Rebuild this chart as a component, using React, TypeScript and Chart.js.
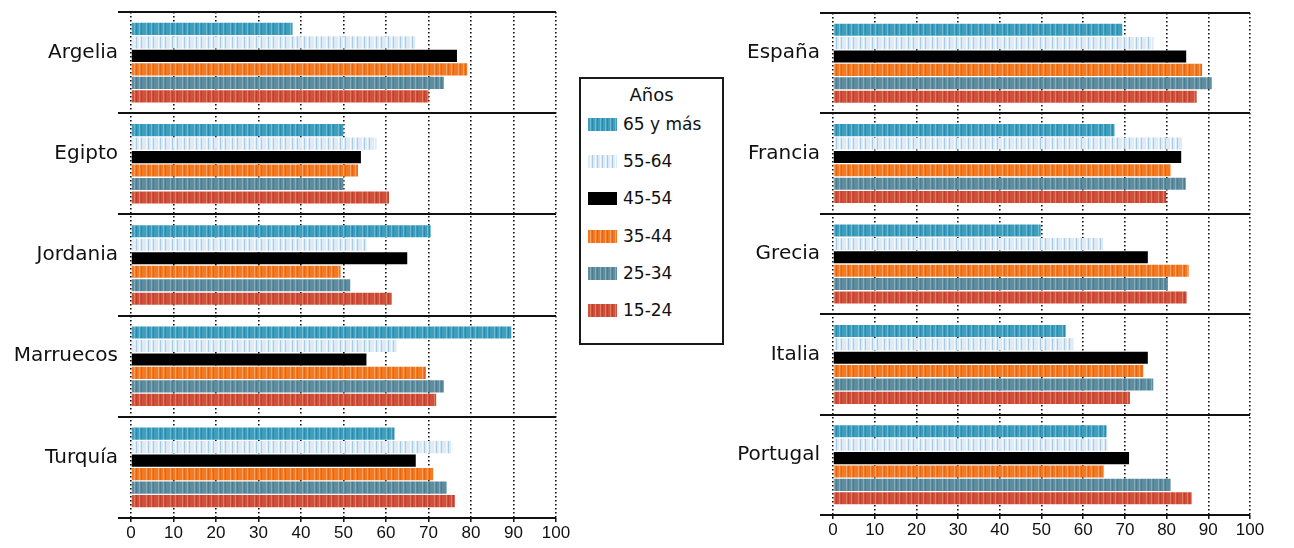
import React, { useEffect, useRef } from "react";
import { Chart, registerables } from "chart.js";

Chart.register(...registerables);

// ---------- Data ----------
const LEFT_COUNTRIES = ["Argelia", "Egipto", "Jordania", "Marruecos", "Turquía"];
const RIGHT_COUNTRIES = ["España", "Francia", "Grecia", "Italia", "Portugal"];
const AGE_GROUPS = ["65 y más", "55-64", "45-54", "35-44", "25-34", "15-24"];
const X_MIN = 0;
const X_MAX = 100;
const X_STEP = 10;

// values per age group, one per country (left panel)
const LEFT_65 = [38, 50, 70.5, 89.5, 62];
const LEFT_55 = [67, 57.7, 55.4, 62.5, 75.6];
const LEFT_45 = [76.7, 54.1, 65, 55.4, 67];
const LEFT_35 = [79.1, 53.4, 49.3, 69.4, 71.1];
const LEFT_25 = [73.6, 50, 51.6, 73.6, 74.3];
const LEFT_15 = [70, 60.7, 61.4, 71.8, 76.2];

// right panel
const RIGHT_65 = [69.4, 67.5, 49.8, 55.8, 65.6];
const RIGHT_55 = [76.8, 83.8, 64.8, 57.7, 65.8];
const RIGHT_45 = [84.7, 83.5, 75.5, 75.5, 71];
const RIGHT_35 = [88.5, 81, 85.3, 74.4, 65];
const RIGHT_25 = [90.9, 84.6, 80.3, 76.8, 81];
const RIGHT_15 = [87.2, 79.9, 84.8, 71.2, 86];

const LEFT_SERIES = [LEFT_65, LEFT_55, LEFT_45, LEFT_35, LEFT_25, LEFT_15];
const RIGHT_SERIES = [RIGHT_65, RIGHT_55, RIGHT_45, RIGHT_35, RIGHT_25, RIGHT_15];

// ---------- Styles ----------
// [base, light, dark]
const SERIES_TONES: string[][] = [
  ["#3D9EBE", "#6DBBD2", "#2C89AD"],
  ["#DCEBF5", "#F6FAFD", "#A9CBE5"],
  ["#000000", "#000000", "#000000"],
  ["#F37A21", "#F9A462", "#E4651A"],
  ["#5E8D9F", "#86AAB8", "#4B7C90"],
  ["#D0503D", "#E27D5B", "#BD412F"],
];

function makePattern(tones: string[]): CanvasPattern | string {
  const [b, l, d] = tones;
  const cols = [b, b, l, b, d, b, b, l, b, d, b, b];
  const c = document.createElement("canvas");
  c.width = cols.length;
  c.height = 1;
  const ctx = c.getContext("2d");
  if (!ctx) return b;
  cols.forEach((col, i) => {
    ctx.fillStyle = col;
    ctx.fillRect(i, 0, 1, 1);
  });
  return ctx.createPattern(c, "repeat") || b;
}

function swatchCss(tones: string[]): string {
  const [b, l, d] = tones;
  return `repeating-linear-gradient(90deg, ${b} 0px, ${b} 2px, ${l} 2px, ${l} 3px, ${b} 3px, ${b} 4px, ${d} 4px, ${d} 5px)`;
}

type PanelProps = {
  countries: string[];
  series: number[][];
  left: number;
  width: number;
  axisWidth: number;
  padTop: number;
  padRight: number;
  xAxisHeight: number;
};

function Panel(props: PanelProps) {
  const ref = useRef<HTMLCanvasElement | null>(null);
  useEffect(() => {
    if (!ref.current) return;
    const patterns = SERIES_TONES.map((t) => makePattern(t));
    const chart = new Chart(ref.current, {
      type: "bar",
      data: {
        labels: props.countries,
        datasets: AGE_GROUPS.map((g, i) => ({
          label: g,
          data: props.series[i],
          backgroundColor: patterns[i] as any,
          borderWidth: 0,
          barPercentage: 0.9,
          categoryPercentage: 0.8,
        })),
      },
      options: {
        indexAxis: "y",
        responsive: false,
        maintainAspectRatio: false,
        animation: false,
        layout: { padding: { top: props.padTop, right: props.padRight, left: 0, bottom: 0 } },
        plugins: { legend: { display: false }, tooltip: { enabled: false } },
        scales: {
          x: {
            min: X_MIN,
            max: X_MAX,
            ticks: {
              stepSize: X_STEP,
              color: "#111",
              padding: 1,
              font: { family: "'Liberation Sans', Arial, sans-serif", size: 17 },
            },
            grid: {
              color: "#111",
              lineWidth: 1.6,
              drawTicks: true,
              tickLength: 4,
              tickWidth: 1.5,
              tickColor: "#111",
            },
            border: { display: false, dash: [1.6, 2.4] },
            afterFit: (scale: any) => {
              scale.height = props.xAxisHeight;
            },
          },
          y: {
            ticks: {
              color: "#111",
              padding: 0,
              labelOffset: -10,
              font: { family: "'DejaVu Sans', sans-serif", size: 20 },
            },
            grid: {
              offset: true,
              color: "#111",
              lineWidth: 2,
              drawTicks: true,
              tickLength: 13,
              tickWidth: 2,
              tickColor: "#111",
            },
            border: { display: false },
            afterFit: (scale: any) => {
              scale.width = props.axisWidth;
            },
          },
        },
      },
    });
    return () => chart.destroy();
  }, []);
  return (
    <canvas
      ref={ref}
      width={props.width}
      height={548}
      style={{ position: "absolute", left: props.left, top: 0, width: props.width, height: 548 }}
    />
  );
}

function Legend() {
  return (
    <div
      style={{
        position: "absolute",
        left: 579,
        top: 77,
        width: 145,
        height: 268,
        border: "2px solid #1a1a1a",
        boxSizing: "border-box",
        fontFamily: "'DejaVu Sans', sans-serif",
        color: "#111",
      }}
    >
      <div
        style={{
          position: "absolute",
          left: 0,
          right: 0,
          top: 5,
          textAlign: "center",
          fontSize: 18,
          lineHeight: "22px",
        }}
      >
        Años
      </div>
      {AGE_GROUPS.map((g, i) => {
        const cy = 45 + i * 37.2;
        return (
          <React.Fragment key={g}>
            <div
              style={{
                position: "absolute",
                left: 7,
                top: cy - 6,
                width: 29,
                height: 13,
                background: swatchCss(SERIES_TONES[i]),
              }}
            />
            <div
              style={{
                position: "absolute",
                left: 42,
                top: cy - 11,
                fontSize: 17,
                lineHeight: "22px",
                whiteSpace: "nowrap",
              }}
            >
              {g}
            </div>
          </React.Fragment>
        );
      })}
    </div>
  );
}

export default function App() {
  return (
    <div
      style={{
        position: "absolute",
        left: 0,
        top: 0,
        width: 1294,
        height: 548,
        background: "#ffffff",
        overflow: "hidden",
      }}
    >
      <Panel
        countries={LEFT_COUNTRIES}
        series={LEFT_SERIES}
        left={0}
        width={575}
        axisWidth={131}
        padTop={7}
        padRight={19}
        xAxisHeight={30}
      />
      <Legend />
      <Panel
        countries={RIGHT_COUNTRIES}
        series={RIGHT_SERIES}
        left={700}
        width={594}
        axisWidth={133}
        padTop={13}
        padRight={44}
        xAxisHeight={33}
      />
    </div>
  );
}
